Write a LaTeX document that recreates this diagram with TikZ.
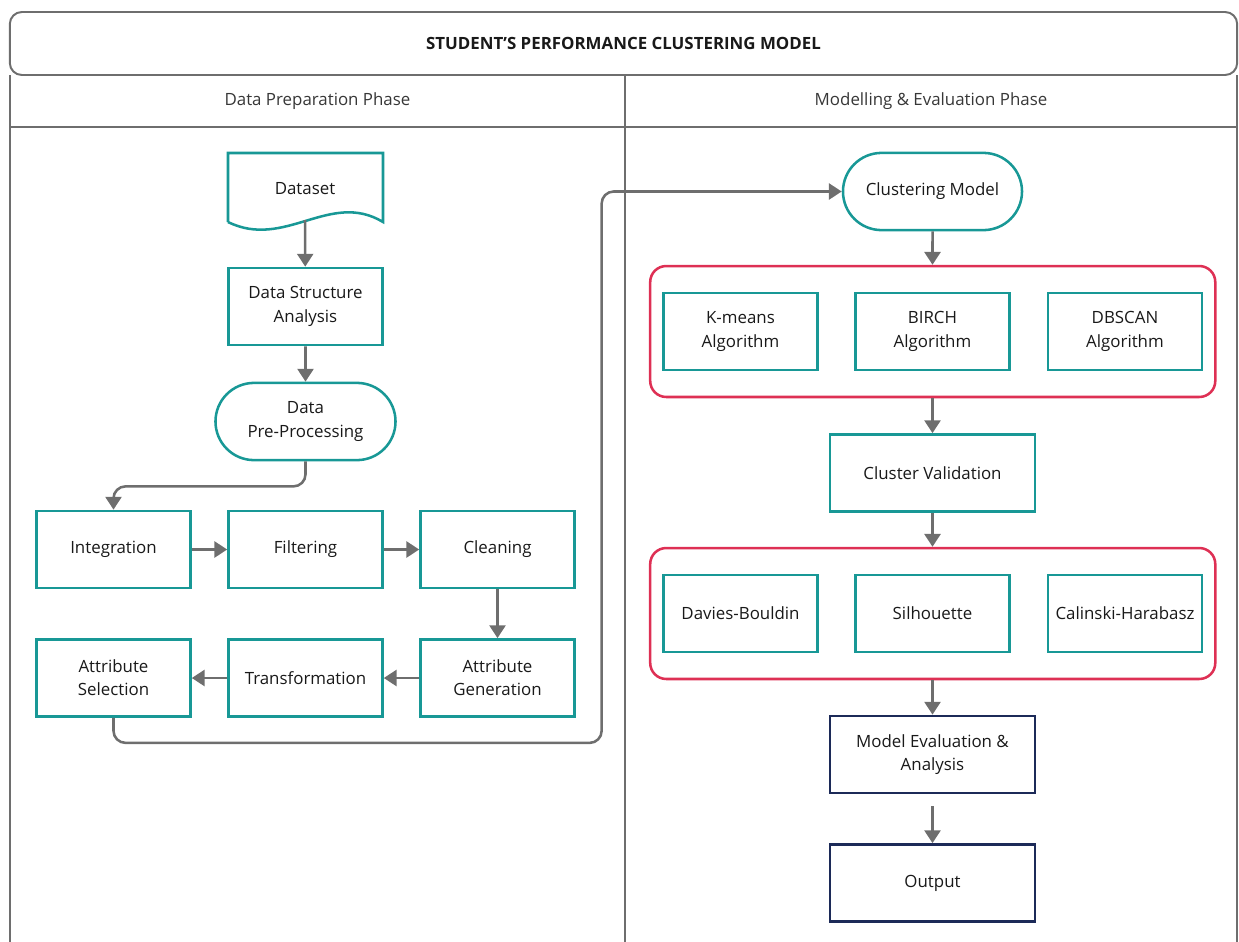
\documentclass[tikz,border=0pt]{standalone}
\usepackage{fontspec}
\setmainfont{Open Sans}
\usetikzlibrary{arrows.meta,shapes.misc,fit,positioning}

\definecolor{tealc}{RGB}{24,152,150}
\definecolor{redc}{RGB}{222,48,84}
\definecolor{navyc}{RGB}{28,42,88}
\definecolor{arrc}{RGB}{110,110,110}
\definecolor{framec}{RGB}{110,110,110}
\definecolor{txtc}{RGB}{25,25,25}

\begin{document}
\begin{tikzpicture}[x=0.025cm,y=-0.025cm,
	every node/.style={font=\fontsize{12}{16.5}\selectfont, text=txtc},
	proc/.style={draw=tealc, line width=1.8pt, minimum width=3.85cm, minimum height=1.93cm, inner xsep=0pt, align=center},
	wide/.style={proc, minimum width=5.12cm},
	term/.style={proc, rounded rectangle, minimum width=4.5cm},
	final/.style={wide, draw=navyc},
	group/.style={draw=redc, line width=1.8pt, rounded corners=0.4cm, inner xsep=0.3cm, inner ysep=0.64cm},
	arr/.style={draw=arrc, line width=1.8pt, -{Triangle[length=3.2mm,width=4mm]}},
	frame/.style={draw=framec, line width=1.4pt},
	lane/.style={text={rgb,255:red,55;green,55;blue,55}}]
	\useasboundingbox (0,0) rectangle (1239,942);
	% frame
	\node[frame, rounded corners=0.3cm, minimum width=30.675cm, minimum height=1.575cm, font=\fontsize{12}{15}\selectfont\bfseries] (title) at (623.5,43.5) {STUDENT'S PERFORMANCE CLUSTERING MODEL};
	\draw[frame] (10,75) -- (10,942) (625,75) -- (625,942) (1237,75) -- (1237,942) (10,127) -- (1237,127);
	\node[lane] (prep) at (317.5,101) {Data Preparation Phase};
	\node[lane] (eval) at (931,101) {Modelling \& Evaluation Phase};
	%
	% data preparation
	\node (ds) at (305,189) {Dataset};
	\draw[draw=tealc, line width=1.8pt] (228,222) -- (228,153) -- (383,153) -- (383,222) .. controls (330,190) and (285,250) .. (228,222);
	\coordinate (dsb) at (305,220);
	\node[proc] (dsa) at (305.5,306.5) {Data Structure\\Analysis};
	\node[term] (dpp) at (305.5,421.5) {Data\\Pre-Processing};
	\node[proc] (integ) at (113.5,549.5) {Integration};
	\node[proc] (filt) at (305.5,549.5) {Filtering};
	\node[proc] (clean) at (497.5,549.5) {Cleaning};
	\node[proc] (agen) at (497.5,678) {Attribute\\Generation};
	\node[proc] (trans) at (305.5,678) {Transformation};
	\node[proc] (asel) at (113.5,678) {Attribute\\Selection};
	%
	% modelling & evaluation
	\node[term, minimum width=4.475cm] (cm) at (932.5,191.5) {Clustering Model};
	\node[proc] (km) at (740.5,331.5) {K-means\\Algorithm};
	\node[proc] (birch) at (932.5,331.5) {BIRCH\\Algorithm};
	\node[proc] (dbscan) at (1125,331.5) {DBSCAN\\Algorithm};
	\node[group, fit=(km)(birch)(dbscan)] (algs) {};
	\node[wide] (cv) at (932.5,473) {Cluster Validation};
	\node[proc] (db) at (740.5,613.5) {Davies-Bouldin};
	\node[proc] (sil) at (932.5,613.5) {Silhouette};
	\node[proc] (ch) at (1125,613.5) {Calinski-Harabasz};
	\node[group, fit=(db)(sil)(ch)] (idx) {};
	\node[final] (mea) at (932.5,754.5) {Model Evaluation \&\\Analysis};
	\node[final] (out) at (932.5,883) {Output};
	%
	\draw[arr] (dsb) -- (dsa);
	\draw[arr] (dsa) -- (dpp);
	\draw[arr, rounded corners=0.3cm] (dpp.south) -- ++(0,25) -| (integ.north);
	\draw[arr] (integ) -- (filt);
	\draw[arr] (filt) -- (clean);
	\draw[arr] (clean) -- (agen);
	\draw[arr] (agen) -- (trans);
	\draw[arr] (trans) -- (asel);
	\draw[arr, rounded corners=0.3cm] (asel.south) -- ++(0,25) -| ([xshift=-6cm]cm.west) -- (cm.west);
	\draw[arr] (cm) -- (algs.north -| cm.south);
	\draw[arr] (algs.south -| cv.north) -- (cv);
	\draw[arr] (cv) -- (idx.north -| cv.south);
	\draw[arr] (idx.south -| mea.north) -- (mea);
	\draw[arr, shorten <=0.3cm] (mea) -- (out);
\end{tikzpicture}
\end{document}
